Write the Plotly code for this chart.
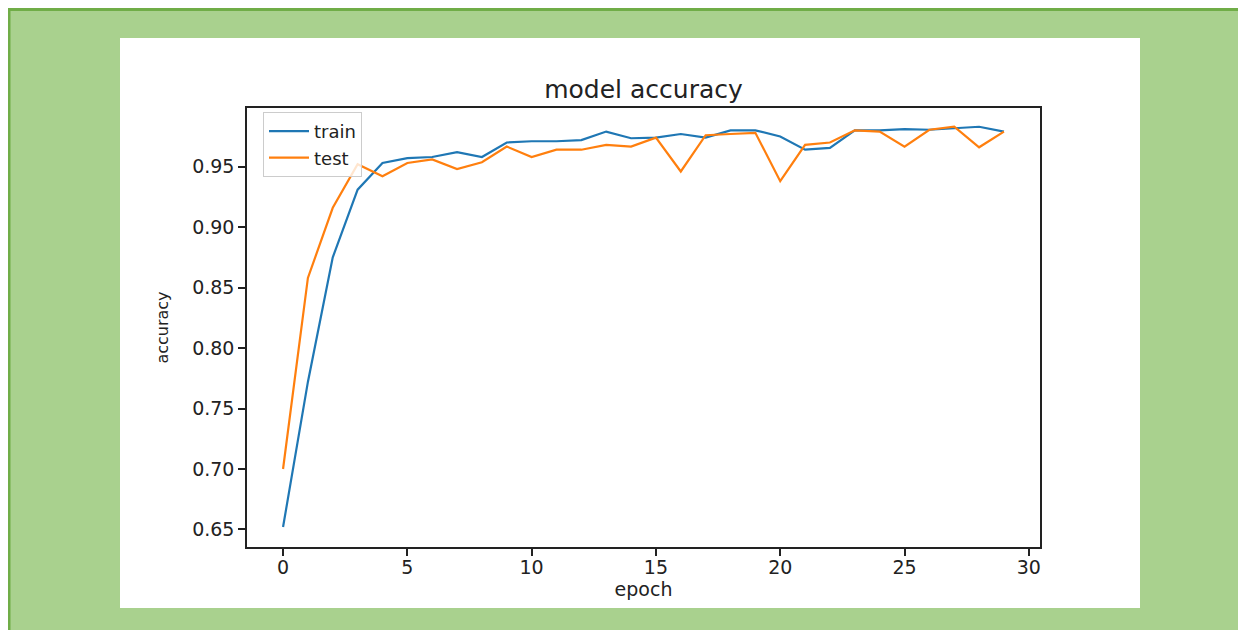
import plotly.graph_objects as go

epochs = list(range(30))
train_acc = [0.652, 0.772, 0.875, 0.931, 0.953, 0.957, 0.958, 0.962, 0.958, 0.970,
             0.971, 0.971, 0.972, 0.979, 0.9735, 0.974, 0.977, 0.974, 0.980, 0.980,
             0.975, 0.964, 0.9655, 0.980, 0.980, 0.981, 0.9805, 0.982, 0.983, 0.979]
test_acc = [0.700, 0.858, 0.916, 0.952, 0.942, 0.953, 0.956, 0.948, 0.9536, 0.9666,
            0.958, 0.964, 0.964, 0.968, 0.9666, 0.974, 0.946, 0.976, 0.977, 0.978,
            0.938, 0.968, 0.970, 0.980, 0.979, 0.9666, 0.9805, 0.983, 0.966, 0.979]
x_ticks = [0, 5, 10, 15, 20, 25, 30]
y_ticks = [0.65, 0.70, 0.75, 0.80, 0.85, 0.90, 0.95]

# page is offset by the 8px default body margin: work in page pixels, subtract it
OFF = 8
PAGE_W, PAGE_H = 1246, 630
W, H = PAGE_W - OFF, PAGE_H - OFF
L, R, T, B = 247, 1040, 108, 547          # plot area in page pixels
pw, ph = R - L, B - T


def px(x):
    return (x - L) / pw


def py(y):
    return (B - y) / ph


FONT = "DejaVu Sans"
fig = go.Figure()
fig.add_trace(go.Scatter(x=epochs, y=train_acc, mode="lines", name="train",
                         line=dict(color="#1f77b4", width=2.2)))
fig.add_trace(go.Scatter(x=epochs, y=test_acc, mode="lines", name="test",
                         line=dict(color="#ff7f0e", width=2.2)))

shapes = [
    # dark green border (top and left)
    dict(type="rect", xref="paper", yref="paper", x0=px(OFF), x1=px(PAGE_W + 5), y0=py(11), y1=py(OFF),
         fillcolor="#70ad47", line_width=0, layer="below"),
    dict(type="rect", xref="paper", yref="paper", x0=px(OFF), x1=px(OFF + 2.5), y0=py(PAGE_H + 5), y1=py(OFF),
         fillcolor="#70ad47", line_width=0, layer="below"),
    # white figure box
    dict(type="rect", xref="paper", yref="paper", x0=px(120), x1=px(1140), y0=py(608), y1=py(38),
         fillcolor="white", line_width=0, layer="below"),
]

fig.update_layout(
    width=W, height=H,
    margin=dict(l=L - OFF, r=PAGE_W - R, t=T - OFF, b=PAGE_H - B),
    paper_bgcolor="#a9d18e",
    plot_bgcolor="white",
    shapes=shapes,
    title=dict(text="model accuracy", x=0.5, xref="paper", xanchor="center",
               y=1 - (89 - OFF) / H, yref="container", yanchor="middle",
               font=dict(family=FONT, size=25, color="#222222")),
    font=dict(family=FONT, color="#222222"),
    showlegend=True,
    legend=dict(x=px(263), y=py(112), xanchor="left", yanchor="top",
                bgcolor="rgba(255,255,255,0.8)", bordercolor="#cccccc", borderwidth=1,
                font=dict(family=FONT, size=18, color="#222222"),
                tracegroupgap=0, itemwidth=40),
    xaxis=dict(range=[-1.45, 30.45], tickvals=x_ticks, ticktext=[str(v) for v in x_ticks],
               showgrid=False, zeroline=False, showline=True, mirror=True,
               linecolor="#222222", linewidth=1.5, ticks="outside", ticklen=7,
               tickcolor="#222222", tickwidth=1.5, ticklabelstandoff=-5,
               tickfont=dict(family=FONT, size=19, color="#222222"),
               title=dict(text="epoch", standoff=2, font=dict(family=FONT, size=19, color="#222222"))),
    yaxis=dict(range=[0.6355, 0.9985], tickvals=y_ticks, ticktext=[f"{v:.2f}" for v in y_ticks],
               showgrid=False, zeroline=False, showline=True, mirror=True,
               linecolor="#222222", linewidth=1.5, ticks="outside", ticklen=7,
               tickcolor="#222222", tickwidth=1.5,
               tickfont=dict(family=FONT, size=19, color="#222222"),
               title=dict(text="accuracy", standoff=20, font=dict(family=FONT, size=16, color="#222222"))),
)

fig.write_html("out.html")
